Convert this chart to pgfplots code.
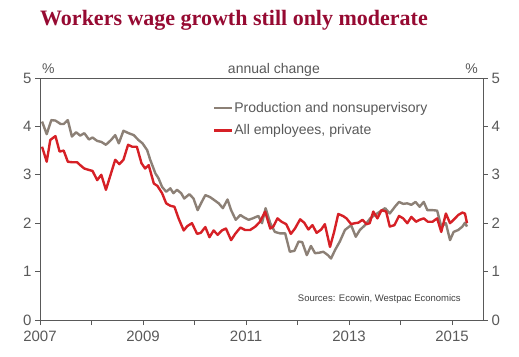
\documentclass[border=0pt]{standalone}
\usepackage{pgfplots}
\pgfplotsset{compat=1.18}
\usepackage{fontspec}
\setmainfont{Liberation Sans}
\newfontfamily\titlefont{Liberation Serif}
\definecolor{titlered}{RGB}{150,10,50}
\definecolor{axgray}{RGB}{89,89,89}
\definecolor{sergray}{RGB}{140,128,118}
\definecolor{serred}{RGB}{214,32,38}
\begin{document}
\begin{tikzpicture}
\useasboundingbox (-40pt,-36pt) rectangle (479pt,320pt);
\node[anchor=base west, inner sep=0pt, font=\titlefont\bfseries\fontsize{22}{24}\selectfont, text=titlered] at (0pt,294pt) {Workers wage growth still only moderate};
\begin{axis}[
  at={(0,0)}, anchor=south west,
  scale only axis, width=443pt, height=242pt,
  xmin=2007, xmax=2015.6, ymin=0, ymax=5,
  xtick={2007,2008,2009,2010,2011,2012,2013,2014,2015},
  xticklabels={2007,,2009,,2011,,2013,,2015},
  ytick={0,1,2,3,4,5},
  xtick pos=bottom, ytick pos=both,
  tick align=outside, major tick length=5pt,
  axis line style={axgray, line width=0.9pt},
  tick style={axgray, line width=0.8pt},
  ticklabel style={font=\fontsize{15}{18}\selectfont, text=axgray},
  xticklabel style={yshift=-2pt},
  /pgf/number format/assume math mode=true,
  legend style={at={(0.39,0.905)}, anchor=north west, draw=none, fill=none,
    font=\fontsize{14}{16}\selectfont, text=axgray, cells={anchor=west},
    row sep=9pt, inner sep=0pt, nodes={inner sep=1pt}},
  legend image code/.code={\draw[#1] (0pt,0pt) -- (18pt,0pt);},
  clip=false,
]
\addplot[sergray, line width=2.4pt, line join=round] coordinates {
(2007.04,4.10)(2007.13,3.84)(2007.22,4.13)(2007.30,4.12)(2007.40,4.05)(2007.46,4.05)
(2007.54,4.13)(2007.62,3.79)(2007.70,3.88)(2007.78,3.81)(2007.86,3.86)(2007.95,3.73)
(2008.02,3.77)(2008.11,3.70)(2008.19,3.68)(2008.28,3.62)(2008.38,3.72)(2008.46,3.82)
(2008.53,3.65)(2008.62,3.91)(2008.72,3.86)(2008.82,3.82)(2008.91,3.72)(2008.99,3.65)
(2009.08,3.51)(2009.14,3.31)(2009.24,3.03)(2009.30,2.93)(2009.37,2.75)(2009.45,2.65)
(2009.53,2.72)(2009.59,2.62)(2009.66,2.69)(2009.74,2.62)(2009.80,2.51)(2009.90,2.60)
(2009.98,2.51)(2010.06,2.27)(2010.14,2.44)(2010.21,2.58)(2010.30,2.54)(2010.38,2.48)
(2010.47,2.41)(2010.55,2.31)(2010.64,2.49)(2010.71,2.27)(2010.80,2.07)(2010.89,2.17)
(2010.96,2.12)(2011.05,2.07)(2011.13,2.10)(2011.24,2.15)(2011.31,2.00)(2011.38,2.31)
(2011.47,2.00)(2011.56,1.82)(2011.66,1.79)(2011.76,1.79)(2011.85,1.41)(2011.94,1.43)
(2012.02,1.62)(2012.09,1.61)(2012.18,1.34)(2012.26,1.53)(2012.34,1.38)(2012.42,1.39)
(2012.50,1.41)(2012.59,1.34)(2012.65,1.27)(2012.73,1.45)(2012.82,1.62)(2012.92,1.86)
(2013.04,1.96)(2013.13,1.72)(2013.21,1.86)(2013.31,1.96)(2013.41,2.10)(2013.50,2.17)
(2013.60,2.24)(2013.70,2.31)(2013.79,2.20)(2013.89,2.34)(2013.97,2.44)(2014.05,2.40)
(2014.13,2.41)(2014.21,2.38)(2014.29,2.44)(2014.37,2.34)(2014.45,2.44)(2014.52,2.27)
(2014.62,2.27)(2014.71,2.26)(2014.79,1.93)(2014.88,2.00)(2014.96,1.65)(2015.03,1.82)
(2015.12,1.86)(2015.20,1.93)(2015.25,2.01)(2015.29,1.93)
};
\addlegendentry{Production and nonsupervisory}
\addplot[serred, line width=2.4pt, line join=round] coordinates {
(2007.04,3.58)(2007.13,3.27)(2007.20,3.72)(2007.30,3.80)(2007.38,3.48)(2007.46,3.50)
(2007.54,3.27)(2007.62,3.26)(2007.72,3.26)(2007.78,3.20)(2007.86,3.13)(2007.95,3.10)
(2008.02,3.08)(2008.11,2.89)(2008.19,3.00)(2008.28,2.69)(2008.37,3.00)(2008.46,3.31)
(2008.54,3.22)(2008.62,3.31)(2008.71,3.62)(2008.79,3.58)(2008.88,3.58)(2008.97,3.24)
(2009.04,3.13)(2009.11,3.20)(2009.21,2.82)(2009.28,2.77)(2009.37,2.62)(2009.45,2.41)
(2009.53,2.36)(2009.61,2.34)(2009.69,2.10)(2009.79,1.85)(2009.86,1.94)(2009.95,2.00)
(2010.05,1.78)(2010.12,1.80)(2010.21,1.92)(2010.29,1.71)(2010.37,1.85)(2010.45,1.76)
(2010.53,1.85)(2010.61,1.89)(2010.71,1.65)(2010.79,1.78)(2010.89,1.91)(2010.98,1.86)
(2011.08,1.86)(2011.18,1.93)(2011.27,2.03)(2011.37,2.24)(2011.47,1.89)(2011.53,1.93)
(2011.61,2.10)(2011.69,2.03)(2011.78,1.98)(2011.87,1.78)(2011.95,1.89)(2012.05,2.08)
(2012.13,2.01)(2012.21,1.87)(2012.29,1.96)(2012.37,1.80)(2012.46,1.87)(2012.53,1.98)
(2012.63,1.51)(2012.71,1.82)(2012.79,2.19)(2012.88,2.15)(2012.95,2.10)(2013.04,1.98)
(2013.11,2.00)(2013.18,2.01)(2013.26,2.07)(2013.34,1.98)(2013.40,2.00)(2013.47,2.24)
(2013.55,2.10)(2013.63,2.27)(2013.72,2.24)(2013.79,1.93)(2013.88,1.96)(2013.97,2.15)
(2014.05,2.10)(2014.13,2.00)(2014.21,2.13)(2014.30,2.03)(2014.37,2.07)(2014.45,2.10)
(2014.53,2.03)(2014.62,2.03)(2014.71,2.10)(2014.79,1.82)(2014.88,2.20)(2014.96,2.00)
(2015.03,2.07)(2015.12,2.17)(2015.20,2.22)(2015.25,2.20)(2015.29,2.00)
};
\addlegendentry{All employees, private}
\node[font=\fontsize{14}{16}\selectfont, text=axgray, anchor=base, yshift=5pt] at (rel axis cs:0.019,1) {\%};
\node[font=\fontsize{14}{16}\selectfont, text=axgray, anchor=base, yshift=5pt] at (rel axis cs:0.974,1) {\%};
\node[font=\fontsize{14}{16}\selectfont, text=axgray, anchor=base, yshift=5pt] at (rel axis cs:0.528,1) {annual change};
\node[font=\fontsize{9.5}{11}\selectfont, text=black!75] at (rel axis cs:0.766,0.087) {Sources: Ecowin, Westpac Economics};
\end{axis}
\begin{axis}[
  at={(0,0)}, anchor=south west,
  scale only axis, width=443pt, height=242pt,
  xmin=2007, xmax=2015.6, ymin=0, ymax=5,
  hide x axis, axis y line*=right,
  ytick={0,1,2,3,4,5},
  tick align=outside, major tick length=5pt,
  axis line style={axgray, line width=0.9pt},
  tick style={axgray, line width=0.8pt},
  ticklabel style={font=\fontsize{15}{18}\selectfont, text=axgray},
  /pgf/number format/assume math mode=true,
]
\end{axis}
\end{tikzpicture}
\end{document}
